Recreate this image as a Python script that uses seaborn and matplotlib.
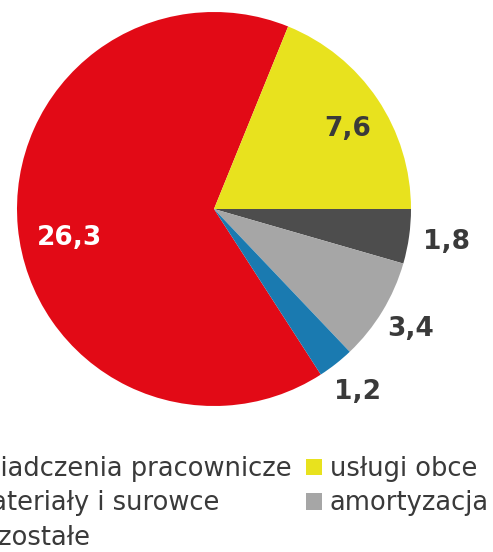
import numpy as np
import matplotlib
matplotlib.use("Agg")
import matplotlib.pyplot as plt
from matplotlib.patches import Patch
import seaborn as sns

# data (order as in the source chart)
categories = ["świadczenia pracownicze", "usługi obce", "materiały i surowce",
              "amortyzacja", "pozostałe"]
values = [26.3, 7.6, 1.8, 3.4, 1.2]
value_labels = ["26,3", "7,6", "1,8", "3,4", "1,2"]
colors = ["#E20A16", "#E8E21E", "#4D4D4D", "#A6A6A6", "#1A7AB0"]
label_colors = ["white", "#3A3A3A", "#3A3A3A", "#3A3A3A", "#3A3A3A"]
label_dist = [0.75, 0.79, 1.19, 1.17, 1.18]
label_shift = [6, -3, 0, 0, 0]   # small angle tweaks (deg)

sns.set_theme(style="white")
plt.rcParams['font.family'] = ['DejaVu Sans']

fig = plt.figure(figsize=(4.93, 5.52), dpi=100)
ax = fig.add_axes([17 / 493, 1 - 406 / 552, 394 / 493, 394 / 552])

total = sum(values)
start = 360 * values[1] / total + 360 * values[0] / total
wedges, _ = ax.pie(values, colors=colors, startangle=start, counterclock=False,
                   radius=1, wedgeprops=dict(linewidth=0))

for w, lab, col, d, sh in zip(wedges, value_labels, label_colors, label_dist, label_shift):
    mid = np.deg2rad((w.theta1 + w.theta2) / 2 + sh)
    ax.text(d * np.cos(mid), d * np.sin(mid), lab, ha="center", va="center",
            fontsize=19, fontweight="bold", color=col)

ax.set_xlim(-1, 1)
ax.set_ylim(-1, 1)
ax.set_aspect("equal")
ax.axis("off")

# legend: column-major, 3 rows in first column
order = [0, 2, 4, 1, 3]
handles = [Patch(facecolor=colors[i], edgecolor="none") for i in order]
labels = [categories[i] for i in order]
leg = fig.legend(handles, labels, ncol=2, loc="upper right",
                 bbox_to_anchor=(489 / 493, 1 - 454 / 552), frameon=False,
                 fontsize=18.5, handlelength=0.62, handleheight=0.62,
                 handletextpad=0.3, columnspacing=0.55, labelspacing=0.33,
                 borderpad=0, borderaxespad=0)
for t in leg.get_texts():
    t.set_color("#3A3A3A")

fig.savefig("out.png", dpi=100)
